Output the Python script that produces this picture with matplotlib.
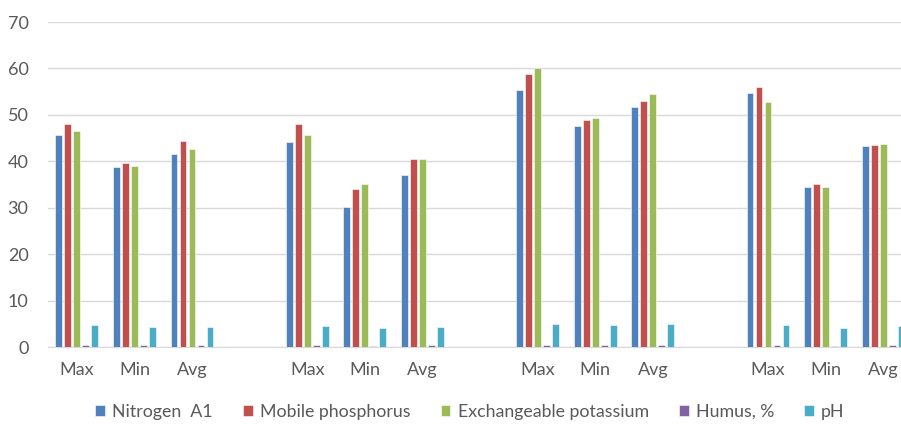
import numpy as np
import matplotlib
matplotlib.use('Agg')
import matplotlib.pyplot as plt

plt.rcParams['font.family'] = ['Lato', 'DejaVu Sans']

# categories (blank slots separate the four groups)
labels = ['Max', 'Min', 'Avg', '', 'Max', 'Min', 'Avg', '', 'Max', 'Min', 'Avg', '', 'Max', 'Min', 'Avg']
nan = np.nan
nitrogen = [45.7, 38.7, 41.5, nan, 44.1, 30.2, 37.0, nan, 55.3, 47.6, 51.8, nan, 54.8, 34.5, 43.2]
phosphorus = [48.0, 39.6, 44.3, nan, 48.0, 34.0, 40.6, nan, 58.7, 48.9, 52.9, nan, 55.9, 35.2, 43.5]
potassium = [46.5, 39.0, 42.6, nan, 45.6, 35.2, 40.5, nan, 60.0, 49.4, 54.4, nan, 52.8, 34.5, 43.7]
humus = [0.4, 0.4, 0.4, nan, 0.4, 0.3, 0.4, nan, 0.4, 0.4, 0.4, nan, 0.4, 0.3, 0.4]
ph = [4.7, 4.3, 4.4, nan, 4.5, 4.0, 4.3, nan, 5.0, 4.8, 5.0, nan, 4.7, 4.2, 4.5]

series = [
    ('Nitrogen  A1', nitrogen, '#4F81BD'),
    ('Mobile phosphorus', phosphorus, '#C0504D'),
    ('Exchangeable potassium', potassium, '#9BBB59'),
    ('Humus, %', humus, '#8064A2'),
    ('pH', ph, '#4BACC6'),
]

fig = plt.figure(figsize=(9.01, 4.24), dpi=100)
ax = fig.add_axes([48 / 901, 1 - 347 / 424, 864 / 901, 325 / 424])

x = np.arange(len(labels))
step = 0.156
width = 0.12
for i, (name, vals, col) in enumerate(series):
    ax.bar(x + (i - 2) * step, vals, width, color=col, edgecolor='#ffffff',
           linewidth=0.4, label=name, zorder=3)

ax.set_xlim(-0.5, len(labels) - 0.5)
ax.set_ylim(0, 70)
ax.set_yticks(range(0, 71, 10))
ax.set_xticks(x)
ax.set_xticklabels(labels)
ax.grid(axis='y', color='#d9d9d9', linewidth=1, zorder=0)
for s in ['top', 'right', 'left']:
    ax.spines[s].set_visible(False)
ax.spines['bottom'].set_color('#d9d9d9')
ax.tick_params(axis='both', length=0, labelsize=13, colors='#595959')
ax.tick_params(axis='x', pad=11)
ax.tick_params(axis='y', pad=14)

fig.legend(loc='center', bbox_to_anchor=(470 / 901, 1 - 412 / 424), ncol=5, frameon=False,
           fontsize=12.8, labelcolor='#595959', handlelength=0.55, handleheight=0.55,
           handletextpad=0.4, columnspacing=1.7)

fig.savefig('out.png', dpi=100)
